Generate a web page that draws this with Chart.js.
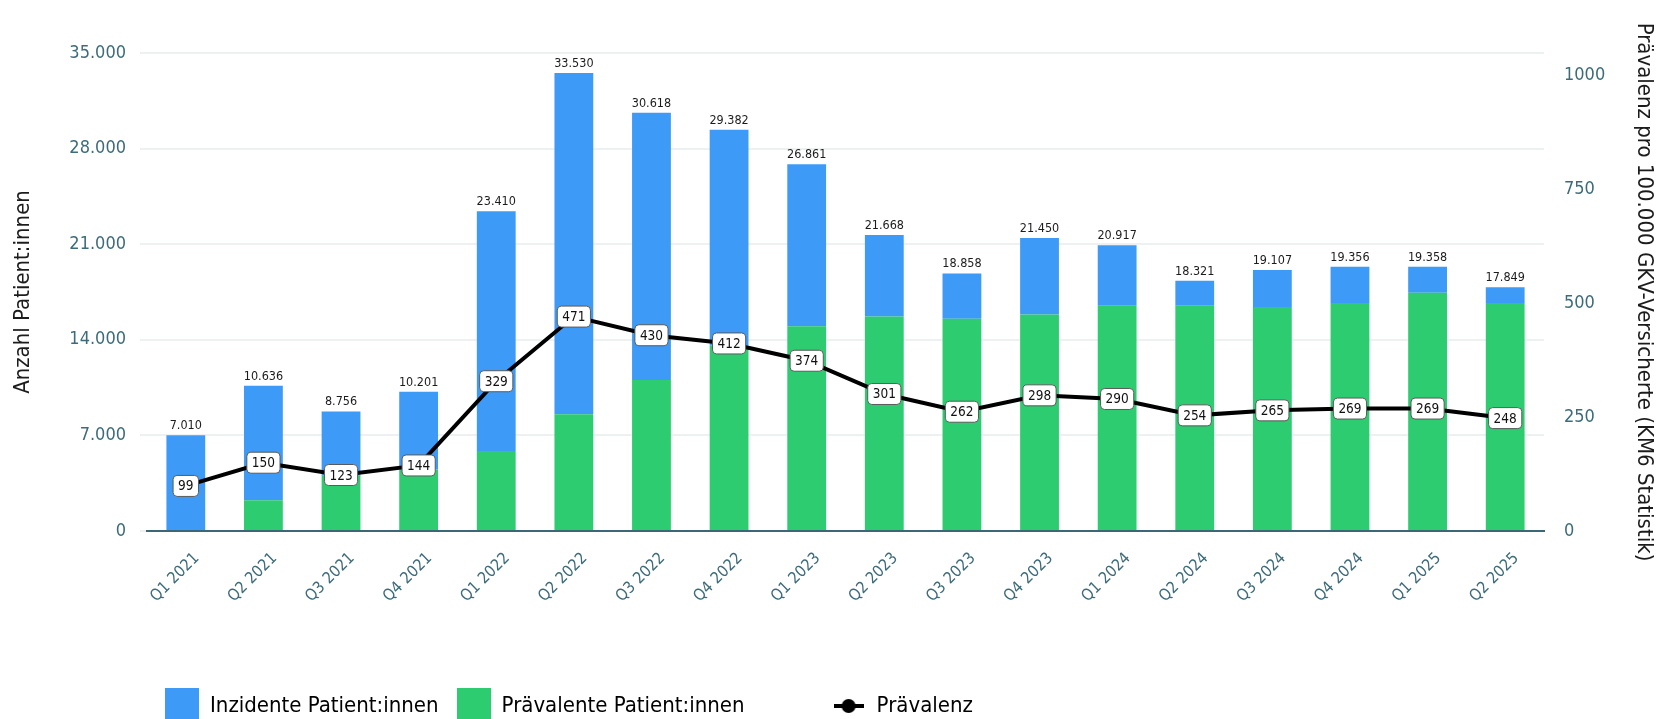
<!DOCTYPE html>
<html lang="de">
<head>
<meta charset="utf-8">
<title>Patient:innen und Prävalenz</title>
<script src="https://cdn.jsdelivr.net/npm/chart.js@4.4.1/dist/chart.umd.min.js"></script>
<style>
  html, body { margin: 0; padding: 0; background: #fff; }
  #wrap { width: 1671px; height: 719px; position: relative; }
</style>
</head>
<body>
<div id="wrap"><canvas id="chart"></canvas></div>
<script>
// Quarterly values
const quarters = ['Q1 2021', 'Q2 2021', 'Q3 2021', 'Q4 2021', 'Q1 2022', 'Q2 2022',
  'Q3 2022', 'Q4 2022', 'Q1 2023', 'Q2 2023', 'Q3 2023', 'Q4 2023',
  'Q1 2024', 'Q2 2024', 'Q3 2024', 'Q4 2024', 'Q1 2025', 'Q2 2025'];
const incident = [7010, 8386, 4706, 5701, 17560, 24980, 19568, 15782, 11861,
  5968, 3308, 5600, 4417, 1821, 2707, 2656, 1908, 1149];
const prevalent = [0, 2250, 4050, 4500, 5850, 8550, 11050, 13600, 15000,
  15700, 15550, 15850, 16500, 16500, 16400, 16700, 17450, 16700];
const prevalence = [99, 150, 123, 144, 329, 471, 430, 412, 374,
  301, 262, 298, 290, 254, 265, 269, 269, 248];

const leftTicks = [0, 7000, 14000, 21000, 28000, 35000];
const rightTicks = [0, 250, 500, 750, 1000];

const FONT = "'DejaVu Sans Condensed', 'DejaVu Sans', sans-serif";
const BLUE = '#3d9af7';
const GREEN = '#2ecc71';
const TEAL = '#3d6b7a';
const TEXT_DARK = '#1c1c1c';

Chart.defaults.font.family = FONT;

const fmt = v => String(v).replace(/\B(?=(\d{3})+(?!\d))/g, '.');

function swatch(w, h, paint) {
    const c = document.createElement('canvas');
    c.width = w;
    c.height = h;
    paint(c.getContext('2d'), w, h);
    return c;
}

const swatches = [
    swatch(34, 36, (g, w, h) => { g.fillStyle = BLUE; g.fillRect(0, 0, w, h); }),
    swatch(34, 36, (g, w, h) => { g.fillStyle = GREEN; g.fillRect(0, 0, w, h); }),
    swatch(30, 16, (g, w, h) => {
        g.fillStyle = '#000';
        g.fillRect(0, h / 2 - 2, w, 4);
        g.beginPath();
        g.arc(w / 2, h / 2, 7, 0, Math.PI * 2);
        g.fill();
    })
];

// Totals above the stacks and boxed values on the line
const valueLabels = {
    id: 'valueLabels',
    afterDatasetsDraw(chart) {
        const ctx = chart.ctx;
        const bars = chart.getDatasetMeta(0).data;
        const points = chart.getDatasetMeta(2).data;
        ctx.save();
        ctx.font = '12.5px ' + FONT;
        ctx.textAlign = 'center';
        ctx.textBaseline = 'bottom';
        ctx.fillStyle = TEXT_DARK;
        bars.forEach((bar, i) => {
            ctx.fillText(fmt(incident[i] + prevalent[i]), bar.x, bar.y - 3);
        });
        ctx.font = '13.5px ' + FONT;
        ctx.textBaseline = 'middle';
        points.forEach((pt, i) => {
            const text = String(prevalence[i]);
            const w = Math.max(ctx.measureText(text).width + 10, 25);
            const h = 21;
            ctx.beginPath();
            ctx.roundRect(pt.x - w / 2, pt.y - h / 2, w, h, 4);
            ctx.fillStyle = '#fff';
            ctx.fill();
            ctx.lineWidth = 1;
            ctx.strokeStyle = '#5a5a5a';
            ctx.stroke();
            ctx.fillStyle = '#111';
            ctx.fillText(text, pt.x, pt.y + 1);
        });
        ctx.restore();
    }
};

new Chart(document.getElementById('chart'), {
    type: 'bar',
    data: {
        labels: quarters,
        datasets: [{
            label: 'Inzidente Patient:innen',
            data: incident,
            backgroundColor: BLUE,
            borderWidth: 0,
            order: 2,
            yAxisID: 'y'
        }, {
            label: 'Prävalente Patient:innen',
            data: prevalent,
            backgroundColor: GREEN,
            borderWidth: 0,
            order: 1,
            yAxisID: 'y'
        }, {
            type: 'line',
            label: 'Prävalenz',
            data: prevalence,
            borderColor: '#000',
            backgroundColor: '#000',
            borderWidth: 4,
            pointRadius: 6,
            pointBackgroundColor: '#000',
            tension: 0,
            order: 0,
            yAxisID: 'y1'
        }]
    },
    options: {
        responsive: true,
        maintainAspectRatio: false,
        animation: false,
        layout: { padding: { top: 53, bottom: -8, left: 0, right: 0 } },
        datasets: {
            bar: { categoryPercentage: 1, barPercentage: 0.5 }
        },
        scales: {
            x: {
                stacked: true,
                grid: { display: false, drawTicks: false },
                border: { display: true, color: '#3c6777', width: 2 },
                ticks: {
                    color: TEAL,
                    font: { size: 16 },
                    minRotation: 45,
                    maxRotation: 45,
                    autoSkip: false,
                    labelOffset: 11,
                    padding: 18
                },
                afterFit: s => { s.height = 146; }
            },
            y: {
                stacked: true,
                position: 'left',
                min: 0,
                max: 35000,
                afterBuildTicks: s => { s.ticks = leftTicks.map(v => ({ value: v })); },
                grid: { color: '#edf1f1', lineWidth: 2, tickLength: 7, drawTicks: true },
                border: { display: false },
                ticks: {
                    color: TEAL,
                    font: { size: 18 },
                    padding: 14,
                    callback: v => fmt(v)
                },
                title: {
                    display: true,
                    text: 'Anzahl Patient:innen',
                    color: TEXT_DARK,
                    font: { size: 22 },
                    padding: { top: 10, bottom: 0 }
                },
                afterFit: s => { s.width = 147; }
            },
            y1: {
                position: 'right',
                min: 0,
                max: 1050,
                afterBuildTicks: s => { s.ticks = rightTicks.map(v => ({ value: v })); },
                grid: { drawOnChartArea: false, drawTicks: false },
                border: { display: false },
                ticks: {
                    color: TEAL,
                    font: { size: 18 },
                    padding: 20,
                    callback: v => String(v)
                },
                title: {
                    display: true,
                    text: 'Prävalenz pro 100.000 GKV-Versicherte (KM6 Statistik)',
                    color: TEXT_DARK,
                    font: { size: 22 },
                    padding: { top: 14, bottom: 0 }
                },
                afterFit: s => { s.width = 127; }
            }
        },
        plugins: {
            legend: {
                position: 'bottom',
                align: 'start',
                fullSize: false,
                labels: {
                    usePointStyle: true,
                    pointStyleWidth: 34,
                    padding: 18,
                    color: '#2f5d6b',
                    font: { size: 22 },
                    generateLabels: chart => chart.data.datasets.map((ds, i) => ({
                        text: ds.label + (i === 1 ? '           ' : ''),
                        pointStyle: swatches[i],
                        datasetIndex: i,
                        hidden: false,
                        lineWidth: 0
                    }))
                }
            },
            tooltip: { enabled: false }
        }
    },
    plugins: [valueLabels]
});
</script>
</body>
</html>
